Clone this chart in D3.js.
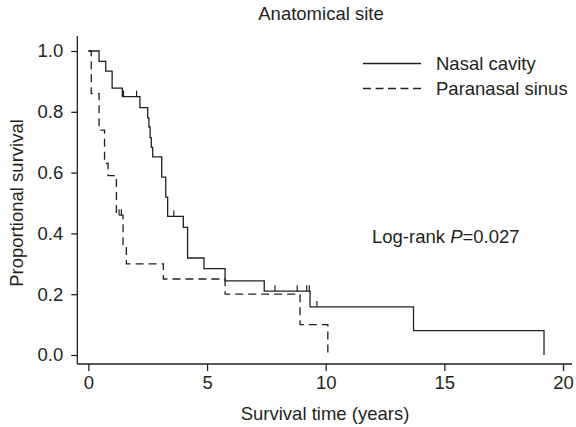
<!DOCTYPE html>
<html>
<head>
<meta charset="utf-8">
<script src="https://cdn.jsdelivr.net/npm/d3@7"></script>
<style>
  body { margin: 0; background: #fff; }
  text { font-family: "Liberation Sans", Arial, Helvetica, sans-serif; fill: #231f20; }
</style>
</head>
<body>
<div id="chart"></div>
<script>
// Kaplan-Meier steps
const nasalTime = [0, 0.45, 0.73, 1.0, 1.43, 2.17, 2.5, 2.55, 2.6, 2.65, 2.71, 3.09, 3.26, 3.34, 4.0, 4.18, 4.87, 5.76, 7.41, 9.34, 13.7, 19.2];
const nasalSurv = [1.0, 0.966, 0.934, 0.878, 0.85, 0.814, 0.78, 0.75, 0.715, 0.683, 0.652, 0.585, 0.519, 0.456, 0.42, 0.319, 0.284, 0.244, 0.21, 0.158, 0.08, 0.0];
const nasalCensor = [1.48, 2.03, 3.6, 7.86, 8.8, 9.2, 9.31, 9.63];

const sinusTime = [0, 0.12, 0.45, 0.68, 0.83, 1.18, 1.46, 1.6, 3.16, 5.76, 8.92, 10.09];
const sinusSurv = [1.0, 0.86, 0.74, 0.63, 0.59, 0.46, 0.36, 0.30, 0.25, 0.20, 0.10, 0.0];
const sinusCensor = [1.29, 1.39];

const xTicks = [0, 5, 10, 15, 20];
const yTicks = [0, 0.2, 0.4, 0.6, 0.8, 1.0];
const groups = ["Nasal cavity", "Paranasal sinus"];

const W = 576, H = 427;
const fs = 18.5;

const svg = d3.select("#chart").append("svg")
  .attr("width", W).attr("height", H);

const x = d3.scaleLinear().domain([0, 20]).range([88.4, 563]);
const y = d3.scaleLinear().domain([0, 1]).range([355, 51]);
const axisLeftX = 77.3, axisBottomY = 364;

// x axis
const gx = svg.append("g")
  .attr("transform", "translate(0," + axisBottomY + ")")
  .call(d3.axisBottom(x).tickValues(xTicks).tickSize(7).tickSizeOuter(0).tickPadding(5));
gx.select(".domain").attr("d", "M" + axisLeftX + ",0H572");

// y axis
const gy = svg.append("g")
  .attr("transform", "translate(" + axisLeftX + ",0)")
  .call(d3.axisLeft(y).tickValues(yTicks).tickSize(6).tickSizeOuter(0).tickPadding(8)
    .tickFormat(d3.format(".1f")));
gy.select(".domain").attr("d", "M0,36V" + axisBottomY);

svg.selectAll(".tick text").style("font-size", fs + "px").attr("fill", "#231f20");
svg.selectAll(".domain, .tick line").attr("stroke", "#231f20").attr("stroke-width", 1.3);

// step curves
const line = d3.line()
  .x(d => x(d[0])).y(d => y(d[1]))
  .curve(d3.curveStepAfter);

const stepAt = (times, surv, t) => {
  let s = surv[0];
  times.forEach((tt, i) => { if (tt <= t) s = surv[i]; });
  return s;
};

const curves = [
  { t: nasalTime, s: nasalSurv, c: nasalCensor, dash: null },
  { t: sinusTime, s: sinusSurv, c: sinusCensor, dash: "8,5" }
];

curves.forEach(cv => {
  svg.append("path")
    .datum(cv.t.map((t, i) => [t, cv.s[i]]))
    .attr("d", line)
    .attr("fill", "none")
    .attr("stroke", "#231f20")
    .attr("stroke-width", 1.3)
    .attr("stroke-dasharray", cv.dash);

  svg.selectAll(null)
    .data(cv.c)
    .enter().append("line")
    .attr("x1", d => x(d)).attr("x2", d => x(d))
    .attr("y1", d => y(stepAt(cv.t, cv.s, d)))
    .attr("y2", d => y(stepAt(cv.t, cv.s, d)) - 6)
    .attr("stroke", "#231f20")
    .attr("stroke-width", 1.2);
});

// legend
const legend = svg.append("g").attr("transform", "translate(363,0)");
groups.forEach((g, i) => {
  const ly = 63.5 + i * 25;
  legend.append("line")
    .attr("x1", 0).attr("x2", 58).attr("y1", ly).attr("y2", ly)
    .attr("stroke", "#231f20").attr("stroke-width", 1.3)
    .attr("stroke-dasharray", i === 1 ? "8,4.5" : null);
  legend.append("text")
    .attr("x", 73).attr("y", ly + 6.5)
    .style("font-size", fs + "px")
    .text(g);
});

// annotations
const lr = svg.append("text")
  .attr("x", 372).attr("y", 243)
  .style("font-size", fs + "px");
lr.append("tspan").text("Log-rank ");
lr.append("tspan").style("font-style", "italic").text("P");
lr.append("tspan").text("=0.027");

svg.append("text")
  .attr("x", 321).attr("y", 20)
  .attr("text-anchor", "middle")
  .style("font-size", fs + "px")
  .text("Anatomical site");

svg.append("text")
  .attr("x", 325).attr("y", 420)
  .attr("text-anchor", "middle")
  .style("font-size", fs + "px")
  .text("Survival time (years)");

svg.append("text")
  .attr("transform", "translate(23,203) rotate(-90)")
  .attr("text-anchor", "middle")
  .style("font-size", fs + "px")
  .text("Proportional survival");
</script>
</body>
</html>
